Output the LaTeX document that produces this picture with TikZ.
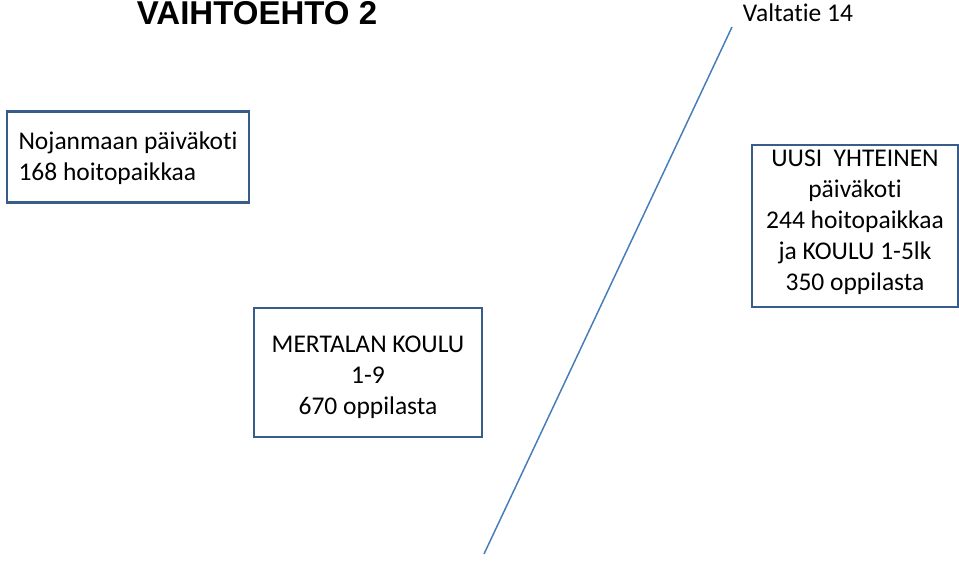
\documentclass[tikz,border=0pt]{standalone}
\usepackage{fontspec}
\setmainfont{Carlito}[Ligatures=NoCommon]
\newfontfamily\titlefont{Liberation Sans}
\usetikzlibrary{positioning}
\definecolor{boxblue}{HTML}{385D8A}
\definecolor{roadblue}{HTML}{4A7EBB}
\tikzset{
  every picture/.style={line width=0.6pt},
  kohde/.style={draw=boxblue,line width=2.6pt,rectangle,inner sep=0pt},
  otsikko/.style={font=\titlefont\bfseries\fontsize{33}{36}\selectfont,inner sep=0pt},
  lbl/.style={font=\fontsize{25.5}{31}\selectfont,inner sep=0pt},
  tie/.style={draw=roadblue,line width=1.5pt},
}

\begin{document}
\begin{tikzpicture}[x=1pt,y=-1pt]
\useasboundingbox (0,0) rectangle (959,560);
% otsikot
\node[otsikko,anchor=north] (title) at (257,1.5) {VAIHTOEHTO 2};
\node[lbl] (valtatie) at (798,13) {Valtatie 14};
% valtatie
\coordinate (roadtop) at (732,27);
\coordinate (roadbot) at (484,554);
\draw[tie] (roadtop) -- (roadbot);
% paivakodit ja koulut
\node[kohde,minimum width=242,minimum height=91] (nojanmaa) at (128,157) {};
\node[lbl,align=left] (nojanmaa-t) at ([yshift=-1pt]nojanmaa.center)
  {Nojanmaan päiväkoti\\168 hoitopaikkaa};
\node[kohde,minimum width=228,minimum height=129] (mertala) at (368,372.5) {};
\node[lbl,align=center] (mertala-t) at ([yshift=-5pt]mertala.center)
  {MERTALAN KOULU\\1-9\\670 oppilasta};
\node[kohde,minimum width=206,minimum height=162] (uusi) at (855,226) {};
\node[lbl,align=center] (uusi-t) at ([yshift=4pt]uusi.center)
  {UUSI\ \ YHTEINEN\\päiväkoti\\244 hoitopaikkaa\\ja KOULU 1-5lk\\350 oppilasta};
\end{tikzpicture}
\end{document}
